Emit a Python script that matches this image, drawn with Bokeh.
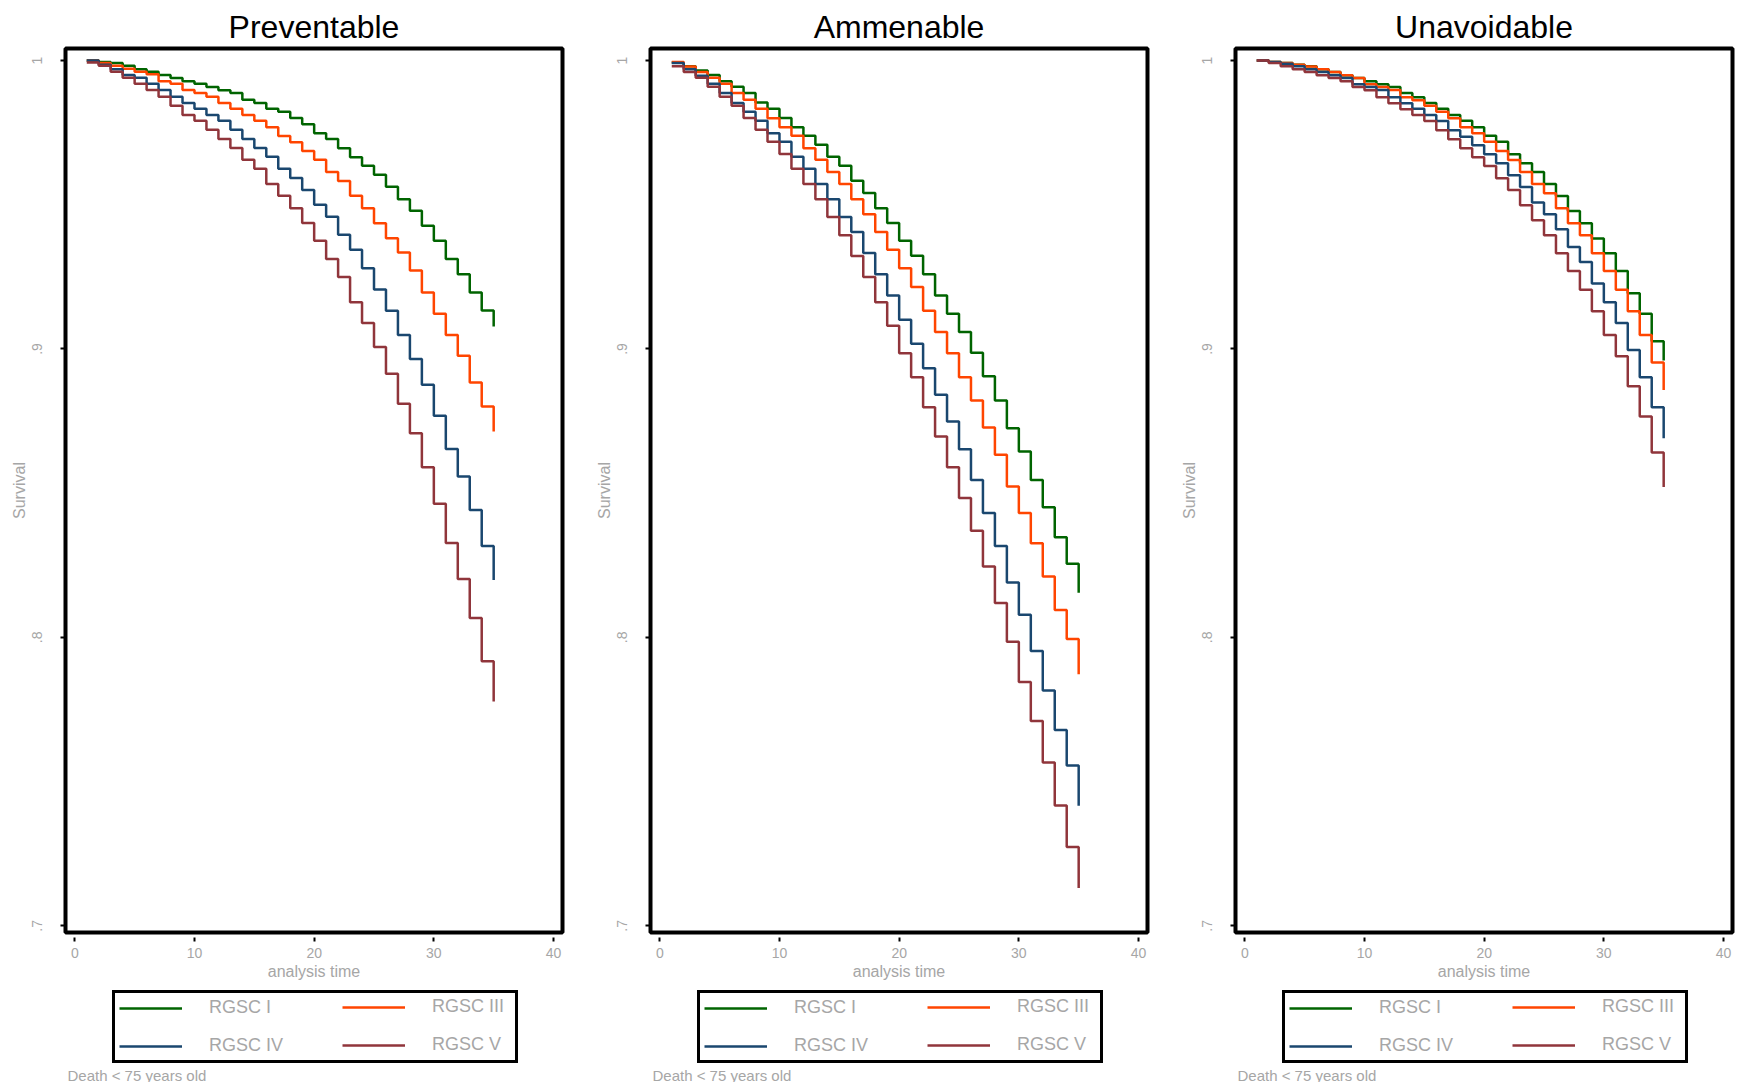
from bokeh.plotting import figure
from bokeh.layouts import row, column
from bokeh.models import Range1d, FixedTicker, Legend, LegendItem, Label
from bokeh.embed import file_html
from bokeh.resources import INLINE

# ---------------- data ----------------
analysis_time = [1, 2, 3, 4, 5, 6, 7, 8, 9, 10, 11, 12, 13, 14, 15, 16, 17, 18,
                 19, 20, 21, 22, 23, 24, 25, 26, 27, 28, 29, 30, 31, 32, 33, 34, 35]

panel_titles = ["Preventable", "Ammenable", "Unavoidable"]
series_labels = ["RGSC I", "RGSC III", "RGSC IV", "RGSC V"]
series_colors = ["#006400", "#FF4500", "#1A476F", "#90353B"]

prev_I = [1.0000, 0.9995, 0.9991, 0.9982, 0.9970, 0.9961, 0.9950, 0.9939, 0.9928, 0.9919,
          0.9908, 0.9897, 0.9887, 0.9864, 0.9853, 0.9833, 0.9822, 0.9801, 0.9779, 0.9748,
          0.9728, 0.9696, 0.9665, 0.9635, 0.9604, 0.9562, 0.9519, 0.9479, 0.9427, 0.9375,
          0.9312, 0.9259, 0.9196, 0.9133, 0.9078]
prev_III = [1.0000, 0.9991, 0.9982, 0.9971, 0.9961, 0.9952, 0.9928, 0.9919, 0.9898, 0.9887,
            0.9874, 0.9853, 0.9833, 0.9811, 0.9791, 0.9769, 0.9738, 0.9717, 0.9686, 0.9656,
            0.9613, 0.9582, 0.9531, 0.9488, 0.9436, 0.9384, 0.9334, 0.9272, 0.9196, 0.9122,
            0.9048, 0.8976, 0.8884, 0.8800, 0.8714]
prev_IV = [1.0000, 0.9985, 0.9970, 0.9950, 0.9940, 0.9919, 0.9898, 0.9874, 0.9853, 0.9833,
           0.9811, 0.9791, 0.9760, 0.9728, 0.9697, 0.9666, 0.9625, 0.9593, 0.9551, 0.9500,
           0.9458, 0.9396, 0.9344, 0.9280, 0.9206, 0.9132, 0.9048, 0.8965, 0.8876, 0.8768,
           0.8653, 0.8558, 0.8442, 0.8317, 0.8199]
prev_V = [0.9993, 0.9982, 0.9961, 0.9940, 0.9919, 0.9898, 0.9874, 0.9843, 0.9811, 0.9791,
          0.9760, 0.9728, 0.9697, 0.9656, 0.9625, 0.9572, 0.9531, 0.9488, 0.9437, 0.9375,
          0.9312, 0.9249, 0.9162, 0.9090, 0.9007, 0.8914, 0.8810, 0.8708, 0.8590, 0.8463,
          0.8327, 0.8202, 0.8067, 0.7917, 0.7778]

amen_I = [0.9993, 0.9980, 0.9965, 0.9950, 0.9928, 0.9909, 0.9887, 0.9854, 0.9833, 0.9801,
          0.9769, 0.9739, 0.9708, 0.9666, 0.9635, 0.9583, 0.9541, 0.9488, 0.9437, 0.9375,
          0.9323, 0.9259, 0.9185, 0.9122, 0.9059, 0.8987, 0.8905, 0.8821, 0.8725, 0.8644,
          0.8546, 0.8451, 0.8347, 0.8255, 0.8155]
amen_III = [0.9995, 0.9979, 0.9960, 0.9940, 0.9919, 0.9887, 0.9864, 0.9833, 0.9800, 0.9769,
            0.9739, 0.9696, 0.9656, 0.9613, 0.9572, 0.9519, 0.9467, 0.9405, 0.9344, 0.9280,
            0.9215, 0.9132, 0.9059, 0.8985, 0.8902, 0.8821, 0.8728, 0.8633, 0.8523, 0.8431,
            0.8326, 0.8211, 0.8095, 0.7994, 0.7872]
amen_IV = [0.9991, 0.9970, 0.9947, 0.9919, 0.9887, 0.9853, 0.9822, 0.9791, 0.9748, 0.9718,
           0.9666, 0.9625, 0.9572, 0.9519, 0.9457, 0.9405, 0.9333, 0.9259, 0.9185, 0.9101,
           0.9018, 0.8933, 0.8841, 0.8748, 0.8652, 0.8546, 0.8431, 0.8317, 0.8190, 0.8078,
           0.7953, 0.7816, 0.7679, 0.7556, 0.7416]
amen_V = [0.9980, 0.9960, 0.9940, 0.9909, 0.9874, 0.9843, 0.9801, 0.9760, 0.9718, 0.9676,
          0.9625, 0.9572, 0.9519, 0.9457, 0.9394, 0.9322, 0.9249, 0.9162, 0.9080, 0.8985,
          0.8902, 0.8798, 0.8696, 0.8590, 0.8483, 0.8370, 0.8246, 0.8119, 0.7985, 0.7845,
          0.7710, 0.7566, 0.7417, 0.7273, 0.7131]

unav_I = [1.0000, 0.9995, 0.9991, 0.9985, 0.9980, 0.9970, 0.9960, 0.9949, 0.9939, 0.9928,
          0.9918, 0.9908, 0.9887, 0.9873, 0.9853, 0.9833, 0.9811, 0.9791, 0.9769, 0.9739,
          0.9718, 0.9675, 0.9644, 0.9613, 0.9572, 0.9530, 0.9478, 0.9436, 0.9383, 0.9332,
          0.9270, 0.9193, 0.9122, 0.9027, 0.8960]
unav_III = [1.0000, 0.9995, 0.9991, 0.9985, 0.9979, 0.9970, 0.9960, 0.9949, 0.9939, 0.9918,
            0.9908, 0.9898, 0.9873, 0.9862, 0.9843, 0.9822, 0.9800, 0.9769, 0.9748, 0.9718,
            0.9686, 0.9655, 0.9613, 0.9572, 0.9540, 0.9488, 0.9436, 0.9394, 0.9332, 0.9270,
            0.9205, 0.9131, 0.9048, 0.8953, 0.8858]
unav_IV = [1.0000, 0.9995, 0.9989, 0.9980, 0.9970, 0.9960, 0.9949, 0.9939, 0.9918, 0.9908,
           0.9898, 0.9873, 0.9852, 0.9833, 0.9811, 0.9790, 0.9758, 0.9736, 0.9706, 0.9675,
           0.9644, 0.9602, 0.9561, 0.9508, 0.9467, 0.9415, 0.9353, 0.9301, 0.9227, 0.9162,
           0.9090, 0.8996, 0.8902, 0.8798, 0.8690]
unav_V = [1.0000, 0.9991, 0.9980, 0.9970, 0.9960, 0.9949, 0.9939, 0.9928, 0.9908, 0.9897,
          0.9873, 0.9852, 0.9831, 0.9811, 0.9790, 0.9758, 0.9727, 0.9696, 0.9665, 0.9634,
          0.9592, 0.9551, 0.9498, 0.9446, 0.9394, 0.9332, 0.9270, 0.9205, 0.9131, 0.9048,
          0.8975, 0.8871, 0.8766, 0.8641, 0.8521]

x_ticks = [0, 10, 20, 30, 40]
y_ticks = [0.7, 0.8, 0.9, 1.0]
y_tick_labels = [".7", ".8", ".9", "1"]
x_axis_label = "analysis time"
y_axis_label = "Survival"
note_text = "Death < 75 years old"

panel_series = [
    [prev_I, prev_III, prev_IV, prev_V],
    [amen_I, amen_III, amen_IV, amen_V],
    [unav_I, unav_III, unav_IV, unav_V],
]

FONT = "Liberation Sans"
GRAY = "#a6a6a6"


def legend_box(items, loc, label_width, framed):
    lg = Legend(items=items, location=loc, orientation="vertical",
                glyph_width=63, glyph_height=20, label_width=label_width, label_height=20,
                label_standoff=27, spacing=17, margin=0,
                label_text_font=FONT, label_text_font_size="18px",
                label_text_color=GRAY)
    if framed:
        lg.padding = 4
        lg.border_line_color = "black"
        lg.border_line_alpha = 1.0
        lg.border_line_width = 3
        lg.background_fill_color = "white"
        lg.background_fill_alpha = 1.0
    else:
        lg.padding = 5
        lg.border_line_color = None
        lg.background_fill_alpha = 0.0
    return lg


def make_panel(title, series, last):
    p = figure(frame_width=497, frame_height=884,
               x_range=Range1d(-0.777, 40.75), y_range=Range1d(0.69768, 1.00416),
               output_backend="svg", toolbar_location=None,
               min_border_left=65, min_border_right=(8 if last else 23),
               min_border_top=48, min_border_bottom=56)
    p.background_fill_color = "white"
    p.border_fill_color = "white"
    p.outline_line_color = "black"
    p.outline_line_width = 4
    p.grid.visible = False

    p.title.text = title
    p.title.text_font = FONT
    p.title.text_font_size = "32px"
    p.title.text_font_style = "normal"
    p.title.text_color = "black"
    p.title.align = "center"
    p.title.vertical_align = "bottom"
    p.title.standoff = 7

    xa = p.xaxis[0]
    xa.ticker = FixedTicker(ticks=x_ticks)
    xa.axis_line_color = None
    xa.major_tick_line_color = "black"
    xa.major_tick_line_width = 2
    xa.major_tick_in = -5
    xa.major_tick_out = 9
    xa.minor_tick_line_color = None
    xa.major_label_text_font = FONT
    xa.major_label_text_font_size = "14px"
    xa.major_label_text_color = GRAY
    xa.major_label_standoff = 6
    xa.axis_label = x_axis_label
    xa.axis_label_text_font = FONT
    xa.axis_label_text_font_size = "16px"
    xa.axis_label_text_font_style = "normal"
    xa.axis_label_text_color = GRAY
    xa.axis_label_standoff = 2

    ya = p.yaxis[0]
    ya.ticker = FixedTicker(ticks=y_ticks)
    ya.major_label_overrides = dict(zip(y_ticks, y_tick_labels))
    ya.major_label_orientation = "vertical"
    ya.axis_line_color = None
    ya.major_tick_line_color = "black"
    ya.major_tick_line_width = 2
    ya.major_tick_in = 0
    ya.major_tick_out = 5
    ya.minor_tick_line_color = None
    ya.major_label_text_font = FONT
    ya.major_label_text_font_size = "14px"
    ya.major_label_text_color = GRAY
    ya.major_label_standoff = 18
    ya.axis_label = y_axis_label
    ya.axis_label_text_font = FONT
    ya.axis_label_text_font_size = "16px"
    ya.axis_label_text_font_style = "normal"
    ya.axis_label_text_color = GRAY
    ya.axis_label_standoff = 2

    for col, ys in zip(series_colors, series):
        p.step(x=analysis_time, y=ys, mode="after", line_color=col, line_width=2.5)
    return p


def make_legend_panel(series, last):
    # strip under each panel holding its legend and note; the series are
    # drawn here only as legend sources and lie outside this strip's y range
    lf = figure(frame_width=497, frame_height=94,
                x_range=Range1d(-0.777, 40.75), y_range=Range1d(2, 3),
                output_backend="svg", toolbar_location=None,
                x_axis_location=None, y_axis_location=None,
                min_border_left=65, min_border_right=(8 if last else 23),
                min_border_top=0, min_border_bottom=0)
    lf.outline_line_color = None
    lf.background_fill_color = "white"
    lf.border_fill_color = "white"
    lf.grid.visible = False

    items = []
    for lab, col, ys in zip(series_labels, series_colors, series):
        r = lf.step(x=analysis_time, y=ys, mode="after", line_color=col, line_width=2.5)
        items.append(LegendItem(label=lab, renderers=[r]))

    lf.add_layout(legend_box([items[0], items[2]], (47, 19), 302, True))
    lf.add_layout(legend_box([items[1], items[3]], (277, 27), 60, False))

    lf.add_layout(Label(x=2, y=7, x_units="screen", y_units="screen",
                        text=note_text, text_font=FONT, text_font_size="15px",
                        text_color=GRAY, text_align="left", text_baseline="alphabetic"))
    return lf


figs = [make_panel(t, s, i == 2) for i, (t, s) in enumerate(zip(panel_titles, panel_series))]
legs = [make_legend_panel(s, i == 2) for i, s in enumerate(panel_series)]
layout = column(row(*figs), row(*legs))

open("out.html", "w").write(file_html(layout, INLINE))
